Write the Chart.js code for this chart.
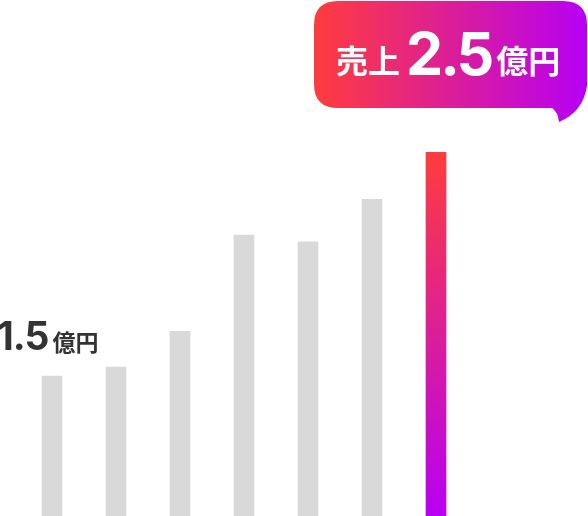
<!DOCTYPE html>
<html lang="ja">
<head>
<meta charset="utf-8">
<title>売上推移</title>
<script src="https://cdn.jsdelivr.net/npm/chart.js@4"></script>
<style>
  html, body { margin: 0; padding: 0; background: #fff; }
  .wrap { position: relative; width: 588px; height: 516px; }
</style>
</head>
<body>
<div class="wrap"><canvas id="salesChart"></canvas></div>
<script>
// data (億円)
const periods = ['1', '2', '3', '4', '5', '6', '7'];
const sales = [1.5, 1.54, 1.7, 2.13, 2.1, 2.29, 2.5];
const startLabel = ['1.5', '億円'];
const badgeLabel = ['売上', '2.5', '億円'];

const gray = '#d9d9d9';
const hot = '#ff3c3c';
const violet = '#b700f4';

// bar colour, last bar gets the gradient
function barColor(c) {
  const last = sales.length - 1;
  if (c.dataIndex !== last) return gray;
  const chart = c.chart;
  if (!chart.chartArea || !chart.scales.y) return violet;
  const top = chart.scales.y.getPixelForValue(sales[last]);
  const g = chart.ctx.createLinearGradient(0, top, 0, chart.chartArea.bottom);
  g.addColorStop(0, hot);
  g.addColorStop(1, violet);
  return g;
}

// speech bubble + start label
const labelsPlugin = {
  id: 'salesLabels',
  afterDatasetsDraw(chart) {
    const { ctx, scales: { y } } = chart;
    ctx.save();

    // start value label over first bar
    const base = y.getPixelForValue(sales[0]) - 26;
    ctx.fillStyle = '#333333';
    ctx.textBaseline = 'alphabetic';
    ctx.letterSpacing = '-1px';
    ctx.font = '700 39px Inter';
    ctx.fillText(startLabel[0], -3, base);
    const w = ctx.measureText(startLabel[0]).width;
    ctx.letterSpacing = '0px';
    ctx.font = '700 23px "Noto Sans CJK JP"';
    ctx.fillText(startLabel[1], w + 1, base + 1);

    // bubble
    const L = 314, T = 1, R = 587, B = 108, r = 24;
    const grad = ctx.createLinearGradient(L, 0, R, 0);
    grad.addColorStop(0, hot);
    grad.addColorStop(1, violet);
    ctx.beginPath();
    ctx.moveTo(L + r, T);
    ctx.lineTo(R - r, T);
    ctx.quadraticCurveTo(R, T, R, T + r);
    ctx.lineTo(R, 86);
    ctx.quadraticCurveTo(R - 4, 112, 559, 122);
    ctx.quadraticCurveTo(558, 112, 552, B);
    ctx.lineTo(L + r, B);
    ctx.quadraticCurveTo(L, B, L, B - r);
    ctx.lineTo(L, T + r);
    ctx.quadraticCurveTo(L, T, L + r, T);
    ctx.closePath();
    ctx.fillStyle = grad;
    ctx.fill();

    // bubble text
    ctx.fillStyle = '#ffffff';
    const kFont = '700 32px "Noto Sans CJK JP"';
    const nFont = '700 59px Inter';
    let x = 336;
    ctx.font = kFont;
    ctx.letterSpacing = '0px';
    ctx.fillText(badgeLabel[0], x, 73);
    x += ctx.measureText(badgeLabel[0]).width + 6;
    ctx.font = nFont;
    ctx.letterSpacing = '-3px';
    ctx.fillText(badgeLabel[1], x, 75);
    x += ctx.measureText(badgeLabel[1]).width + 5;
    ctx.font = kFont;
    ctx.letterSpacing = '0px';
    ctx.fillText(badgeLabel[2], x, 73);

    ctx.restore();
  }
};

new Chart(document.getElementById('salesChart'), {
  type: 'bar',
  data: {
    labels: periods,
    datasets: [{
      data: sales,
      backgroundColor: barColor,
      barThickness: 20,
      borderWidth: 0
    }]
  },
  options: {
    responsive: true,
    maintainAspectRatio: false,
    animation: false,
    layout: { padding: { left: 20, right: 120, top: 0, bottom: 0 } },
    plugins: {
      legend: { display: false },
      tooltip: { enabled: false }
    },
    scales: {
      x: { display: false },
      y: { display: false, min: 0.875, max: 3.18 }
    }
  },
  plugins: [labelsPlugin]
});
</script>
</body>
</html>
